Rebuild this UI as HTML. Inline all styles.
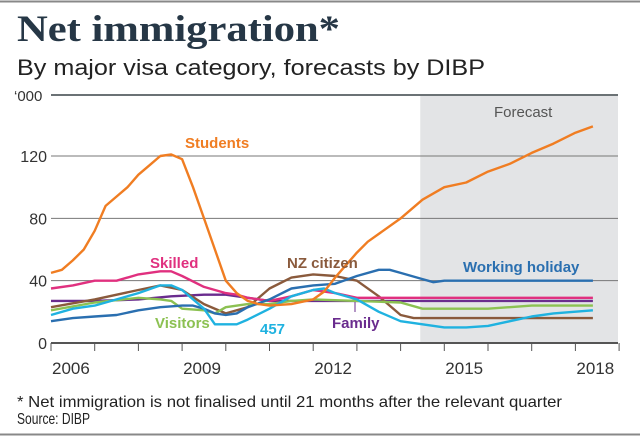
<!DOCTYPE html>
<html><head><meta charset="utf-8"><style>
body{margin:0;background:#fff;width:640px;height:439px;overflow:hidden}
svg{display:block}
</style></head><body>
<svg id="c" width="640" height="439" xmlns="http://www.w3.org/2000/svg">
<line x1="0" y1="1.5" x2="640" y2="1.5" stroke="#888" stroke-width="2"/>
<line x1="0" y1="434.5" x2="640" y2="434.5" stroke="#888" stroke-width="2"/>
<text x="17" y="41" font-family="Liberation Serif, serif" font-weight="bold" font-size="37" fill="#263746" textLength="323" lengthAdjust="spacingAndGlyphs">Net immigration*</text>
<text x="17" y="75" font-family="Liberation Sans, sans-serif" font-size="22" fill="#222" textLength="468" lengthAdjust="spacingAndGlyphs">By major visa category, forecasts by DIBP</text>
<g id="plot"></g>
<text x="17" y="407" font-family="Liberation Sans, sans-serif" font-size="16" fill="#222" textLength="545" lengthAdjust="spacingAndGlyphs">* Net immigration is not finalised until 21 months after the relevant quarter</text>
<text x="17" y="424" font-family="Liberation Sans, sans-serif" font-size="16" fill="#222" textLength="73" lengthAdjust="spacingAndGlyphs">Source: DIBP</text>
</svg>
<script>
const yTicks=[0,40,80,120];
const xYears=[2006,2009,2012,2015,2018];
const forecastStart=2014.45;
const students_x=[2006,2006.25,2006.5,2006.75,2007,2007.25,2007.5,2007.75,2008,2008.25,2008.5,2008.75,2009,2009.25,2009.5,2009.75,2010,2010.25,2010.5,2010.75,2011,2011.5,2012,2012.25,2012.5,2012.75,2013,2013.25,2013.5,2014,2014.5,2015,2015.5,2016,2016.5,2017,2017.5,2018,2018.4];
const students_y=[45,47,53,60,72,88,94,100,108,114,120,121,118,100,80,60,40,32,27,25,24,25,28,33,42,50,58,65,70,80,92,100,103,110,115,122,128,135,139];
const wh_x=[2006,2006.5,2007,2007.5,2008,2008.5,2009,2009.25,2009.5,2009.75,2010,2010.25,2010.5,2011,2011.5,2012,2012.5,2013,2013.5,2013.75,2014,2014.5,2014.75,2015,2018.4];
const wh_y=[14,16,17,18,21,23,24,24,22,19,18,19,23,28,35,37,38,43,47,47,45,41,39,40,40];
const sk_x=[2006,2006.5,2007,2007.5,2008,2008.5,2008.75,2009,2009.5,2010,2010.25,2010.5,2011,2011.5,2012,2012.5,2013,2014,2018.4];
const sk_y=[35,37,40,40,44,46,46,43,36,32,31,29,27,30,34,32,29,29,29];
const nz_x=[2006,2007,2008,2008.5,2009,2009.5,2010,2010.5,2011,2011.5,2012,2012.5,2013,2013.5,2014,2014.3,2015,2018.4];
const nz_y=[23,28,34,37,34,25,19,23,35,42,44,43,40,30,18,16,16,16];
const fam_x=[2006,2007,2008,2008.75,2009.5,2010,2010.5,2011,2012,2018.4];
const fam_y=[27,27,28,30,31,31,29,27,27,27];
const vis_x=[2006,2007,2008,2008.5,2008.75,2009,2009.5,2009.75,2010,2010.5,2011,2011.5,2012,2013,2014,2014.5,2015,2016,2017,2018.4];
const vis_y=[21,26,29,28,27,22,21,19,23,25,25,27,28,27,26,22,22,22,24,24];
const v457_x=[2006,2006.5,2007,2007.5,2008,2008.5,2008.75,2009,2009.5,2009.75,2010.25,2010.5,2011,2011.5,2012,2012.25,2012.5,2013,2013.5,2014,2014.5,2015,2015.5,2016,2016.5,2017,2017.5,2018.4];
const v457_y=[18,22,24,28,32,37,37,34,22,12,12,15,22,30,34,35,32,28,20,14,12,10,10,11,14,17,19,21];

const NS="http://www.w3.org/2000/svg";
const X=v=>51+(v-2006)*43.7;
const Y=v=>343-v*1.558;
const plot=document.getElementById('plot');
function mk(t,a,p){const e=document.createElementNS(NS,t);for(const k in a)e.setAttribute(k,a[k]);(p||plot).appendChild(e);return e;}
const shade=mk('rect',{x:X(forecastStart),y:95,width:618-X(forecastStart),height:343-95,fill:'#e3e4e6'});


const topLine=mk('line',{x1:51,x2:618,y1:95,y2:95,stroke:'#6b7275','stroke-width':2});


const t0=mk('text',{x:14,y:101,'font-family':'Liberation Sans, sans-serif','font-size':15,fill:'#333'});t0.textContent='‘000';


yTicks.forEach(v=>{
 if(v>0){const g=mk('line',{x1:51,x2:618,y1:Y(v),y2:Y(v),stroke:'#777','stroke-width':1});
 
 }
 const t=mk('text',{x:47,y:Y(v)+6,'text-anchor':'end','font-family':'Liberation Sans, sans-serif','font-size':16,fill:'#333'});t.textContent=v;
 
 
});
const ax=mk('line',{x1:51,x2:618,y1:343,y2:343,stroke:'#555','stroke-width':2});


for(let yr=2006;yr<=2019;yr++){const tk=mk('line',{x1:X(yr),x2:X(yr),y1:343,y2:351,stroke:'#555','stroke-width':1});
 
 }
xYears.forEach(yr=>{const t=mk('text',{x:X(yr)+1,y:374,'text-anchor':'start','font-family':'Liberation Sans, sans-serif','font-size':17,fill:'#333'});t.textContent=yr;
 
 });
const series=[
 ['family-line',fam_x,fam_y,'#6a2c8e'],
 ['nz-citizen-line',nz_x,nz_y,'#8a5a3c'],
 ['visitors-line',vis_x,vis_y,'#8cc152'],
 ['skilled-line',sk_x,sk_y,'#e0307f'],
 ['working-holiday-line',wh_x,wh_y,'#2a6fb0'],
 ['457-line',v457_x,v457_y,'#1fb2e0'],
 ['students-line',students_x,students_y,'#f07d22']];
series.forEach(s=>{const d=s[1].map((x,i)=>(i?'L':'M')+X(x).toFixed(1)+','+Y(s[2][i]).toFixed(1)).join('');
 const p=mk('path',{d:d,fill:'none',stroke:s[3],'stroke-width':2.4,'stroke-linejoin':'round'});
 
 });
const labels=[['Students',185,148,'#f07d22','students-label'],['Skilled',150,268,'#e0307f','skilled-label'],['NZ citizen',287,268,'#8a5a3c','nz-citizen-label'],['Working holiday',463,272,'#2a6fb0','working-holiday-label'],['Visitors',155,328,'#8cc152','visitors-label'],['457',260,334,'#1fb2e0','457-label'],['Family',332,328,'#6a2c8e','family-label'],['Forecast',494,117,'#555','forecast-label']];
labels.forEach(l=>{const t=mk('text',{x:l[1],y:l[2],'font-family':'Liberation Sans, sans-serif','font-size':15,'font-weight':l[0]=='Forecast'?'normal':'bold',fill:l[3]});t.textContent=l[0];
 
 });
const fl=mk('line',{x1:355,x2:355,y1:302,y2:312,stroke:'#6a2c8e','stroke-width':1});


</script>
</body></html>
